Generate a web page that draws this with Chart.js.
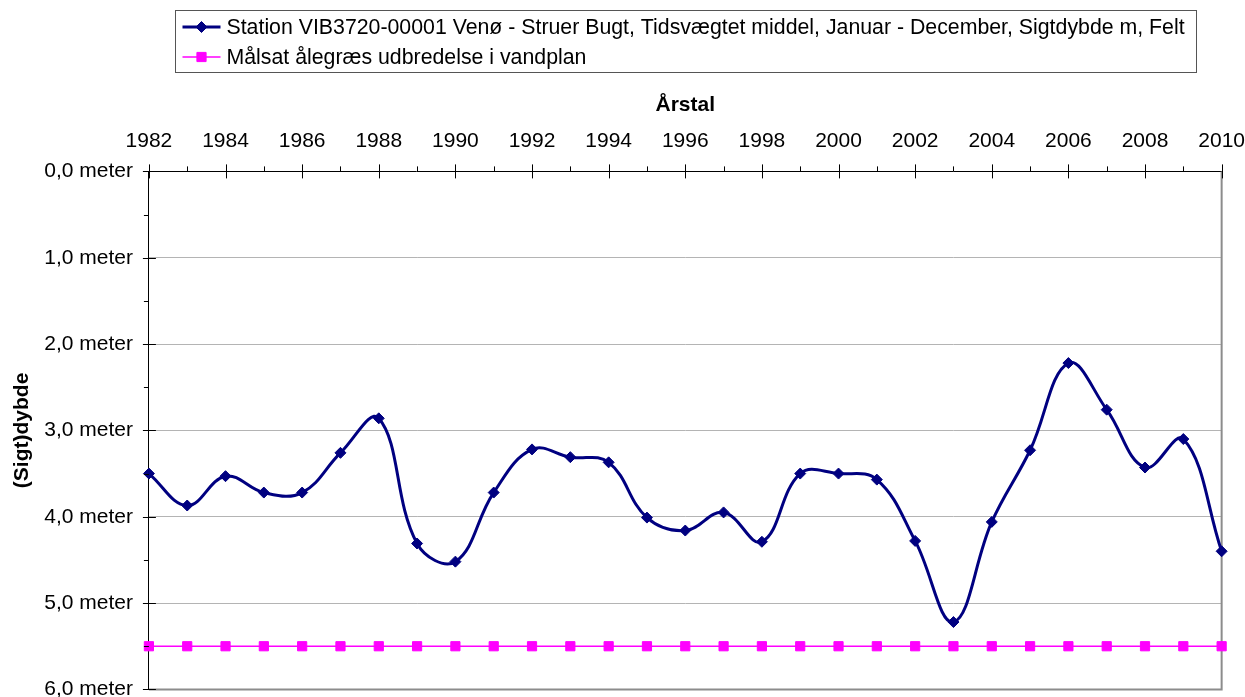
<!DOCTYPE html>
<html>
<head>
<meta charset="utf-8">
<script src="https://cdn.jsdelivr.net/npm/chart.js@4/dist/chart.umd.min.js"></script>
<style>
  html, body { margin: 0; padding: 0; background: #fff; overflow: hidden; }
  canvas { display: block; }
</style>
</head>
<body>
<canvas id="sigt-chart" width="1245" height="702"></canvas>
<script>
// Data

let years = [
  1982, 1983, 1984, 1985, 1986, 1987, 1988, 1989, 1990, 1991, 1992, 1993, 1994, 1995, 1996,
  1997, 1998, 1999, 2000, 2001, 2002, 2003, 2004, 2005, 2006, 2007, 2008, 2009, 2010,
];

let sigtdybde = [
  3.5, 3.87, 3.53, 3.72, 3.72, 3.26, 2.86, 4.31, 4.52, 3.72, 3.22, 3.31, 3.37, 4.01, 4.16,
  3.95, 4.29, 3.5, 3.5, 3.57, 4.28, 5.22, 4.06, 3.23, 2.22, 2.76, 3.43, 3.1, 4.4,
];

let maalsat = [
  5.5, 5.5, 5.5, 5.5, 5.5, 5.5, 5.5, 5.5, 5.5, 5.5, 5.5, 5.5, 5.5, 5.5, 5.5,
  5.5, 5.5, 5.5, 5.5, 5.5, 5.5, 5.5, 5.5, 5.5, 5.5, 5.5, 5.5, 5.5, 5.5,
];

let seriesNames = [
  "Station VIB3720-00001 Venø - Struer Bugt, Tidsvægtet middel, Januar - December, Sigtdybde m, Felt",
  "Målsat ålegræs udbredelse i vandplan",
];

let xTitle = "Årstal";
let yTitle = "(Sigt)dybde";

let fontFamily = "'Liberation Sans', Arial, Helvetica, sans-serif";
let fontSize = 21;

Chart.defaults.font.family = fontFamily;
Chart.defaults.font.size = fontSize;
Chart.defaults.color = "#000";

function points(values) {
  return years.map((year, i) => ({ x: year, y: values[i] }));
}

// Gray frame right and bottom

const plotFrame = {
  id: "plotFrame",
  beforeDatasetsDraw(chart) {
    let ctx = chart.ctx;
    let area = chart.chartArea;
    ctx.save();
    ctx.strokeStyle = "#8c8c8c";
    ctx.lineWidth = 2;
    ctx.beginPath();
    ctx.moveTo(area.left, area.bottom);
    ctx.lineTo(area.right, area.bottom);
    ctx.lineTo(area.right, area.top);
    ctx.stroke();
    ctx.restore();
  },
};

// Tick marks, major ones cross the axis

const axisTicks = {
  id: "axisTicks",
  afterDraw(chart) {
    let ctx = chart.ctx;
    let xs = chart.scales.x;
    let ys = chart.scales.y;
    let area = chart.chartArea;
    ctx.save();
    ctx.strokeStyle = "#000";
    ctx.lineWidth = 1;
    ctx.beginPath();
    xs.ticks.forEach((t) => {
      let px = Math.round(xs.getPixelForValue(t.value)) + 0.5;
      let major = t.value % 2 === 0;
      ctx.moveTo(px, area.top - (major ? 7 : 5));
      ctx.lineTo(px, area.top + (major ? 7 : 0));
    });
    ys.ticks.forEach((t) => {
      let py = Math.round(ys.getPixelForValue(t.value)) + 0.5;
      let major = Number.isInteger(t.value);
      ctx.moveTo(area.left - (major ? 6 : 5), py);
      ctx.lineTo(area.left + (major ? 7 : 0), py);
    });
    ctx.stroke();
    ctx.restore();
  },
};

// Legend in a box, line with marker

const legendBox = {
  id: "legendBox",
  afterDraw(chart) {
    let ctx = chart.ctx;
    let area = chart.chartArea;
    let sets = chart.data.datasets;
    ctx.save();
    ctx.font = "21.3px " + fontFamily;
    let textW = Math.max(...sets.map((d) => ctx.measureText(d.label).width));
    let boxW = Math.round(51 + textW + 12);
    let left = Math.round((area.left + area.right) / 2 - boxW / 2) + 0.5;
    ctx.strokeStyle = "#555";
    ctx.lineWidth = 1;
    ctx.strokeRect(left, 10.5, boxW, 62);

    sets.forEach((d, i) => {
      let cy = 27 + i * 30;
      let mx = left + 7;
      ctx.strokeStyle = d.borderColor;
      ctx.lineWidth = d.borderWidth;
      ctx.beginPath();
      ctx.moveTo(mx, cy);
      ctx.lineTo(mx + 38, cy);
      ctx.stroke();
      ctx.fillStyle = d.pointBackgroundColor;
      ctx.strokeStyle = d.pointBorderColor;
      ctx.lineWidth = 1;
      Chart.helpers.drawPoint(
        ctx,
        { pointStyle: d.pointStyle, radius: d.pointRadius, borderWidth: 1, rotation: 0 },
        mx + 19,
        cy
      );
      ctx.fillStyle = "#000";
      ctx.textAlign = "left";
      ctx.textBaseline = "middle";
      ctx.fillText(d.label, left + 51, cy + 1);
    });
    ctx.restore();
  },
};

let ctx = document.getElementById("sigt-chart").getContext("2d");

let chart = new Chart(ctx, {
  type: "line",
  data: {
    datasets: [
      {
        label: seriesNames[0],
        data: points(sigtdybde),
        borderColor: "#000080",
        backgroundColor: "#000080",
        borderWidth: 3,
        tension: 0.4,
        pointStyle: "rectRot",
        pointRadius: 5.5,
        pointBackgroundColor: "#000080",
        pointBorderColor: "#000080",
        pointBorderWidth: 1,
        clip: false,
      },
      {
        label: seriesNames[1],
        data: points(maalsat),
        borderColor: "#ff00ff",
        backgroundColor: "#ff00ff",
        borderWidth: 1.7,
        tension: 0,
        pointStyle: "rect",
        pointRadius: 6.5,
        pointBackgroundColor: "#ff00ff",
        pointBorderColor: "#ff00ff",
        pointBorderWidth: 1,
        clip: false,
      },
    ],
  },
  options: {
    responsive: false,
    animation: false,
    layout: {
      padding: { top: 93, left: 10, right: 23, bottom: 0 },
    },
    plugins: {
      legend: { display: false },
      tooltip: { enabled: false },
    },
    scales: {
      x: {
        type: "linear",
        position: "top",
        min: 1982,
        max: 2010,
        grid: {
          display: true,
          drawOnChartArea: false,
          drawTicks: true,
          tickLength: 18,
          tickColor: "rgba(0,0,0,0)",
        },
        border: { display: true, color: "#000", width: 1 },
        title: {
          display: true,
          text: xTitle,
          font: { size: fontSize, weight: "bold" },
          padding: { top: 0, bottom: 10 },
        },
        ticks: {
          stepSize: 1,
          autoSkip: false,
          maxRotation: 0,
          minRotation: 0,
          padding: 0,
          callback: (value) => (value % 2 === 0 ? String(value) : ""),
        },
      },
      y: {
        type: "linear",
        reverse: true,
        min: 0,
        max: 6,
        grid: {
          drawTicks: true,
          tickLength: 16,
          tickColor: "rgba(0,0,0,0)",
          lineWidth: 1,
          color: (c) =>
            c.tick && Number.isInteger(c.tick.value) && c.tick.value > 0 && c.tick.value < 6
              ? "#b4b4b4"
              : "rgba(0,0,0,0)",
        },
        border: { display: true, color: "#000", width: 1 },
        title: {
          display: true,
          text: yTitle,
          font: { size: fontSize, weight: "bold" },
          padding: { top: 0, bottom: 9 },
        },
        ticks: {
          stepSize: 0.5,
          autoSkip: false,
          padding: 0,
          callback: (value) =>
            Number.isInteger(value) ? value.toFixed(1).replace(".", ",") + " meter" : "",
        },
      },
    },
  },
  plugins: [plotFrame, axisTicks, legendBox],
});
</script>
</body>
</html>
